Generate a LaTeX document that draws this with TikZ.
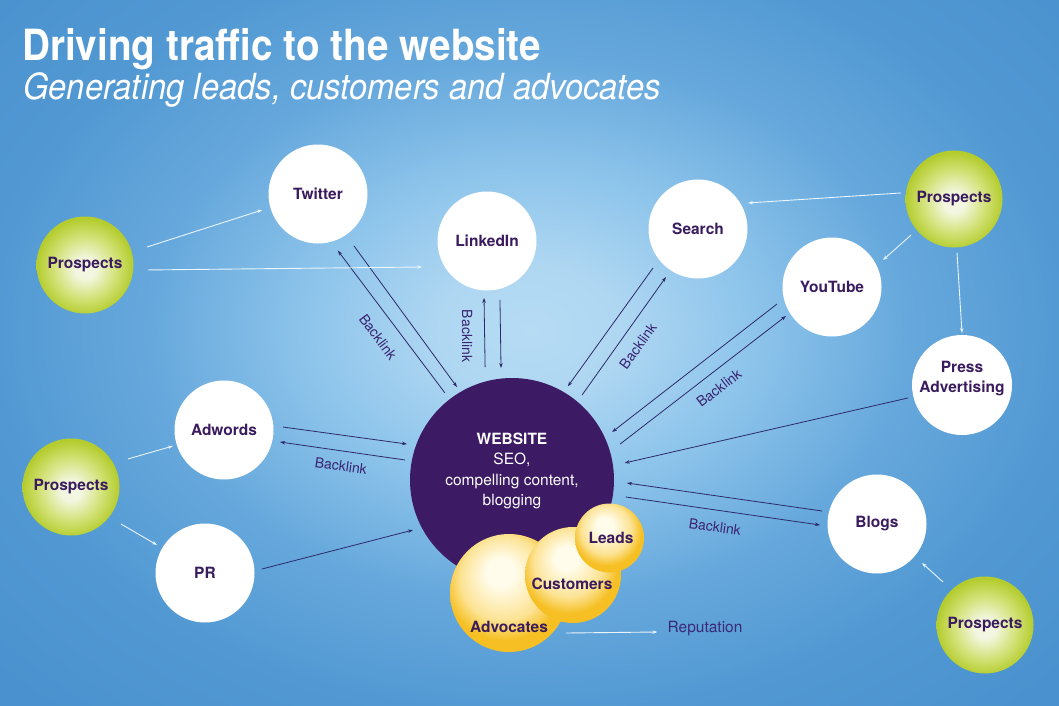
\documentclass[tikz,border=0pt]{standalone}
\usepackage{fontspec}
\setmainfont{TeX Gyre Heros}
\usepackage{graphicx}
\usetikzlibrary{calc,arrows.meta}
\definecolor{bgA}{HTML}{B6DCF4}
\definecolor{bgB}{HTML}{AFD7F2}
\definecolor{bgC}{HTML}{8DC4EB}
\definecolor{bgD}{HTML}{66A8DC}
\definecolor{bgE}{HTML}{5299D3}
\definecolor{bgF}{HTML}{4A92CF}
\definecolor{gA}{HTML}{F3F7E2}
\definecolor{gB}{HTML}{D3E278}
\definecolor{gC}{HTML}{B4CC2E}
\definecolor{yA}{HTML}{FFFCEB}
\definecolor{yB}{HTML}{FCE394}
\definecolor{yC}{HTML}{F6C025}
\definecolor{webc}{HTML}{3C1A64}
\definecolor{txt}{HTML}{3A1B5E}
\definecolor{bltxt}{HTML}{3A2472}
\definecolor{reptxt}{HTML}{3B2A7A}
\definecolor{arrd}{HTML}{2D2A6A}
\definecolor{arrl}{HTML}{EAF5FC}
\pgfdeclareradialshading{bgshade}{\pgfpoint{0bp}{0bp}}{color(0bp)=(bgA); color(4bp)=(bgB); color(10bp)=(bgC); color(17bp)=(bgD); color(24bp)=(bgE); color(32bp)=(bgF); color(50bp)=(bgF)}
\pgfdeclareradialshading{greenball}{\pgfpoint{0bp}{-2bp}}{color(0bp)=(gA); color(5bp)=(gA); color(16bp)=(gB); color(25bp)=(gC); color(50bp)=(gC)}
\pgfdeclareradialshading{yellowball}{\pgfpoint{-4bp}{10bp}}{color(0bp)=(yA); color(6bp)=(yA); color(18bp)=(yB); color(25bp)=(yC); color(50bp)=(yC)}
\newcommand\labfont{\fontsize{15.5}{20}\selectfont\bfseries}
\newcommand\blfont{\fontsize{14}{16}\selectfont}
\newcommand\webfont{\fontsize{15.5}{20.5}\selectfont}
\tikzset{
  wcirc/.style={circle, fill=white, minimum size=99pt, inner sep=0pt, font=\labfont, text=txt, align=center},
  gcirc/.style={circle, shade, shading=greenball, minimum size=97pt, inner sep=0pt, font=\labfont, text=txt},
  ycirc/.style={circle, shade, shading=yellowball, inner sep=0pt},
  ytext/.style={font=\labfont, text=txt, inner sep=0pt},
  dark/.style={draw=arrd, line width=0.8pt, -{Stealth[length=5pt,width=3.5pt]}},
  light/.style={draw=arrl, line width=0.9pt, -{Stealth[length=5pt,width=3.5pt]}},
  bl/.style={font=\blfont, text=bltxt, inner sep=0pt},
}
\begin{document}
\begin{tikzpicture}[x=1pt, y=-1pt]
\useasboundingbox (0,0) rectangle (1059,706);
\begin{scope}
  \clip (0,0) rectangle (1059,706);
  \shade[shading=bgshade] (-30,-70) rectangle (1089,730);
\end{scope}
% titles
\node[anchor=base west, inner sep=0pt, text=white] (title) at (22,61)
  {\scalebox{0.9}[1]{\fontsize{43}{43}\selectfont\bfseries Driving traffic to the website}};
\node[anchor=base west, inner sep=0pt, text=white] (subtitle) at (23,100)
  {\scalebox{0.91}[1]{\fontsize{36}{36}\selectfont\itshape Generating leads, customers and advocates}};
% channel circles
\node[wcirc] (tw) at (318,194) {Twitter};
\node[wcirc] (li) at (487,241) {LinkedIn};
\node[wcirc] (se) at (698,229) {Search};
\node[wcirc] (yt) at (832,287) {YouTube};
\node[wcirc, minimum size=100pt] (pa) at (962,385) {};
\node[ytext, align=center] (patxt) at (962,379) {Press\\Advertising};
\node[wcirc] (ad) at (224,430) {Adwords};
\node[wcirc] (pr) at (205,573) {PR};
\node[wcirc] (bg) at (877,524) {Blogs};
% prospects
\node[gcirc] (p1) at (85,265) {Prospects};
\node[gcirc] (p2) at (954,199) {Prospects};
\node[gcirc] (p3) at (71,487) {Prospects};
\node[gcirc] (p4) at (985,625) {Prospects};
% website
\node[circle, fill=webc, minimum size=204pt, inner sep=0pt] (web) at (512,480) {};
\node[align=center, text=white, font=\webfont, inner sep=0pt] (webtxt) at (512,471)
  {{\bfseries WEBSITE}\\SEO,\\compelling content,\\blogging};
% yellow circles
\node[ycirc, minimum size=118pt] (adv) at (509,593) {};
\node[ycirc, minimum size=96pt] (cus) at (573,575) {};
\node[ycirc, minimum size=69pt] (lea) at (609.5,538) {};
\node[ytext] (advt) at (509,627) {Advocates};
\node[ytext] (cust) at (572,584) {Customers};
\node[ytext] (leat) at (611,538) {Leads};
\node[font=\fontsize{15.5}{18}\selectfont, text=reptxt, inner sep=0pt] (rep) at (705,629) {Reputation};
% dark connectors
\draw[dark] ($(web)+(-127.6:110)$) -- ($(tw)+(70.7:60)$);
\draw[dark] ($(tw)+(55.3:63)$) -- ($(web)+(-120.6:108)$);
\draw[dark] ($(web)+(-103.4:116)$) -- ($(li)+(93:57)$);
\draw[dark] ($(li)+(77.6:60.4)$) -- ($(web)+(-95.6:112.5)$);
\draw[dark] ($(se)+(139.1:59.5)$) -- ($(web)+(-59.2:109)$);
\draw[dark] ($(web)+(-50.5:110)$) -- ($(se)+(123.7:57.7)$);
\draw[dark] ($(yt)+(162.8:57.6)$) -- ($(web)+(-25.6:111)$);
\draw[dark] ($(web)+(-18.4:114)$) -- ($(yt)+(147.8:54.4)$);
\draw[dark] ($(pa)+(166.5:55.5)$) -- ($(web)+(-8.6:114)$);
\draw[dark] ($(bg)+(-166.7:56.5)$) -- ($(web)+(1.5:115)$);
\draw[dark] ($(web)+(8.5:115)$) -- ($(bg)+(179:57)$);
\draw[dark] ($(ad)+(-2.9:59)$) -- ($(web)+(-161.1:111)$);
\draw[dark] ($(web)+(-169.4:108.9)$) -- ($(ad)+(12.1:57.3)$);
\draw[dark] ($(pr)+(-4:57)$) -- ($(web)+(153.2:111)$);
% light connectors
\draw[light] ($(p1)+(-16.2:64.6)$) -- ($(tw)+(164:58.2)$);
\draw[light] ($(p1)+(4.5:63.2)$) -- ($(li)+(158.2:70)$);
\draw[light] ($(p2)+(-173.5:53.3)$) -- ($(se)+(-27.5:56.4)$);
\draw[light] ($(p2)+(140:56)$) -- ($(yt)+(-27.9:57.7)$);
\draw[light] ($(p2)+(86.8:54)$) -- ($(pa)+(-90:52)$);
\draw[light] ($(p3)+(-26.2:63.5)$) -- ($(ad)+(162.6:53.5)$);
\draw[light] ($(p3)+(36.5:62.2)$) -- ($(pr)+(-149.7:55.6)$);
\draw[light] ($(p4)+(-134.3:60)$) -- ($(bg)+(40.9:59.5)$);
\draw[light] ($(advt.east)+(18,6)$) -- ($(rep.west)+(-10,3)$);
% backlink labels
\node[bl, rotate=-53] (bl1) at (378,337) {Backlink};
\node[bl, rotate=-90] (bl2) at (467,336) {Backlink};
\node[bl, rotate=54] (bl3) at (638,346) {Backlink};
\node[bl, rotate=37.5] (bl4) at (719,388) {Backlink};
\node[bl, rotate=-8] (bl5) at (715,527) {Backlink};
\node[bl, rotate=-8] (bl6) at (341,466) {Backlink};
\end{tikzpicture}
\end{document}
